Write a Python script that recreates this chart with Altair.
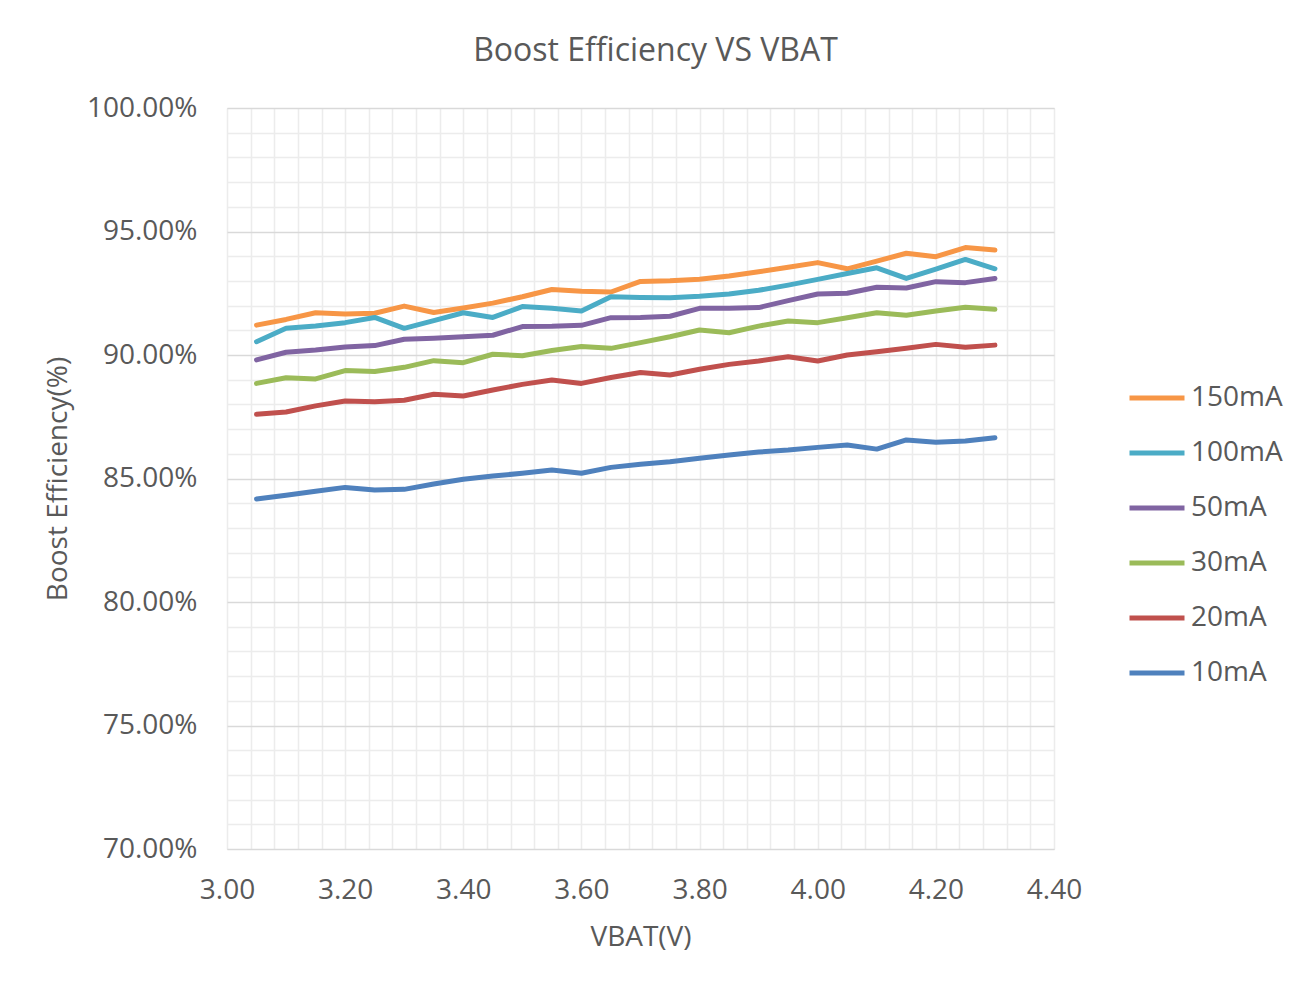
import altair as alt
import pandas as pd

# ---- data ----
vbat = [3.05, 3.10, 3.15, 3.20, 3.25, 3.30, 3.35, 3.40, 3.45, 3.50, 3.55, 3.60, 3.65,
        3.70, 3.75, 3.80, 3.85, 3.90, 3.95, 4.00, 4.05, 4.10, 4.15, 4.20, 4.25, 4.30]

series_names = ["150mA", "100mA", "50mA", "30mA", "20mA", "10mA"]
series_colors = ["#F79646", "#4BACC6", "#8064A2", "#9BBB59", "#C0504D", "#4F81BD"]

eff_150 = [91.21, 91.44, 91.71, 91.66, 91.69, 91.98, 91.72, 91.90, 92.10, 92.36, 92.65, 92.58, 92.55,
           92.98, 93.01, 93.07, 93.20, 93.37, 93.55, 93.74, 93.49, 93.80, 94.12, 93.98, 94.35, 94.25]
eff_100 = [90.54, 91.08, 91.17, 91.31, 91.52, 91.08, 91.39, 91.71, 91.52, 91.96, 91.89, 91.78, 92.36,
           92.33, 92.32, 92.38, 92.47, 92.62, 92.83, 93.06, 93.30, 93.53, 93.10, 93.48, 93.87, 93.49]
eff_50 = [89.80, 90.11, 90.20, 90.32, 90.38, 90.64, 90.68, 90.74, 90.80, 91.15, 91.16, 91.20, 91.51,
          91.52, 91.57, 91.89, 91.89, 91.92, 92.20, 92.47, 92.50, 92.74, 92.71, 92.97, 92.93, 93.10]
eff_30 = [88.85, 89.08, 89.03, 89.37, 89.33, 89.50, 89.77, 89.69, 90.03, 89.97, 90.18, 90.34, 90.27,
          90.50, 90.74, 91.01, 90.90, 91.17, 91.38, 91.31, 91.51, 91.71, 91.61, 91.78, 91.93, 91.85]
eff_20 = [87.60, 87.69, 87.94, 88.14, 88.11, 88.17, 88.41, 88.34, 88.58, 88.81, 88.99, 88.85, 89.09,
          89.29, 89.19, 89.42, 89.62, 89.76, 89.93, 89.76, 90.00, 90.13, 90.27, 90.43, 90.31, 90.40]
eff_10 = [84.17, 84.32, 84.48, 84.64, 84.53, 84.56, 84.78, 84.97, 85.10, 85.21, 85.34, 85.21, 85.45,
          85.58, 85.68, 85.82, 85.95, 86.07, 86.15, 86.26, 86.36, 86.19, 86.56, 86.47, 86.52, 86.65]

x_grid = [3.00, 3.04, 3.08, 3.12, 3.16, 3.20, 3.24, 3.28, 3.32, 3.36, 3.40, 3.44,
          3.48, 3.52, 3.56, 3.60, 3.64, 3.68, 3.72, 3.76, 3.80, 3.84, 3.88, 3.92,
          3.96, 4.00, 4.04, 4.08, 4.12, 4.16, 4.20, 4.24, 4.28, 4.32, 4.36, 4.40]
y_grid = [0.70, 0.71, 0.72, 0.73, 0.74, 0.75, 0.76, 0.77, 0.78, 0.79, 0.80,
          0.81, 0.82, 0.83, 0.84, 0.85, 0.86, 0.87, 0.88, 0.89, 0.90,
          0.91, 0.92, 0.93, 0.94, 0.95, 0.96, 0.97, 0.98, 0.99, 1.00]

rows = []
for name, vals in zip(series_names, [eff_150, eff_100, eff_50, eff_30, eff_20, eff_10]):
    for v, e in zip(vbat, vals):
        rows.append({"vbat": v, "eff": e / 100.0, "load": name})
df = pd.DataFrame(rows)

FONT = "Open Sans"
TXT = "#595959"
FS = 28

x_axis = alt.Axis(
    values=x_grid,
    labelExpr="abs(datum.value*5 - round(datum.value*5)) < 0.001 ? format(datum.value, '.2f') : ''",
    title="VBAT(V)",
    ticks=False, domain=False,
    grid=True, gridColor="#ececec", gridWidth=1.5,
    labelFont=FONT, labelFontSize=FS, labelColor=TXT,
    labelPadding=27, labelFlush=False, labelOverlap=False,
    titleFont=FONT, titleFontSize=FS, titleColor=TXT, titleFontWeight="normal",
    titlePadding=19,
)
y_axis = alt.Axis(
    values=y_grid,
    labelExpr="abs(datum.value*20 - round(datum.value*20)) < 0.001 ? format(datum.value, '.2%') : ''",
    title="Boost Efficiency(%)",
    ticks=False, domain=False,
    grid=True, gridWidth=1.5,
    gridColor={"condition": {"test": "abs(datum.value*20 - round(datum.value*20)) < 0.001",
                             "value": "#d9d9d9"},
               "value": "#ececec"},
    labelFont=FONT, labelFontSize=FS, labelColor=TXT,
    labelPadding=30, labelOverlap=False,
    titleFont=FONT, titleFontSize=FS, titleColor=TXT, titleFontWeight="normal",
    titlePadding=14,
)

chart = alt.Chart(df).mark_line(strokeWidth=5, strokeCap="round", strokeJoin="round").encode(
    x=alt.X("vbat:Q", scale=alt.Scale(domain=[3.0, 4.4], nice=False, zero=False), axis=x_axis),
    y=alt.Y("eff:Q", scale=alt.Scale(domain=[0.70, 1.00], nice=False, zero=False), axis=y_axis),
    color=alt.Color(
        "load:N",
        scale=alt.Scale(domain=series_names, range=series_colors),
        legend=alt.Legend(
            title=None, orient="none", legendX=900, legendY=260,
            symbolType="stroke", symbolSize=3025, symbolStrokeWidth=5,
            labelFont=FONT, labelFontSize=FS, labelColor=TXT,
            rowPadding=11, labelOffset=4,
        ),
    ),
).properties(
    width=827,
    height=741,
    title=alt.TitleParams("Boost Efficiency VS VBAT", font=FONT, fontSize=32,
                          color=TXT, fontWeight="normal", anchor="middle", offset=26, dx=15),
    padding={"left": 219, "top": 100, "right": 240, "bottom": 120},
    autosize=alt.AutoSizeParams(type="none"),
).configure_view(stroke=None).configure(font=FONT)

chart.save("out.html", embed_options={"renderer": "svg", "actions": False})
